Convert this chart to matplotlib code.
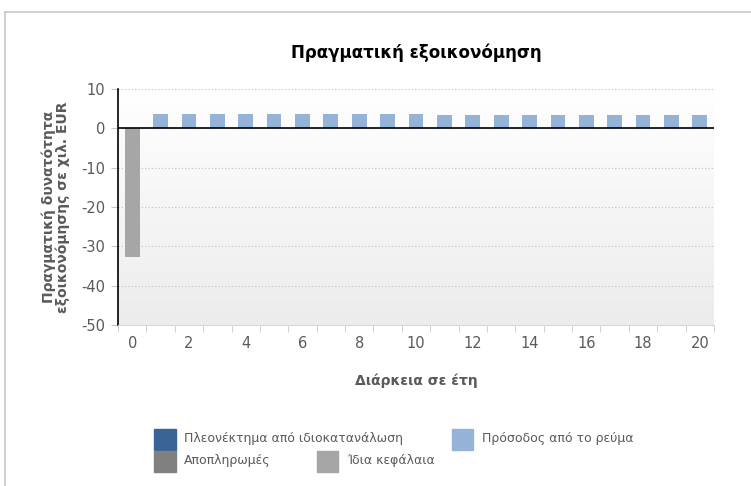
import matplotlib.pyplot as plt
from matplotlib.patches import Patch
from matplotlib.lines import Line2D
from matplotlib.colors import LinearSegmentedColormap
import numpy as np

plt.rcParams['font.family'] = ['DejaVu Sans']
plt.rcParams['axes.unicode_minus'] = False

years = list(range(0, 21))
equity = [-32.6] + [0] * 20                      # Ίδια κεφάλαια
income = [0] + [3.6] * 10 + [3.3] * 10            # Πρόσοδος από το ρεύμα
repayments = [0] * 21                             # Αποπληρωμές
self_use = [0] * 21                               # Πλεονέκτημα από ιδιοκατανάλωση
y_ticks = [10, 0, -10, -20, -30, -40, -50]
x_labels = list(range(0, 21, 2))

c_self = '#3b6496'
c_income = '#95b3d7'
c_repay = '#808080'
c_equity = '#a6a6a6'
txt = '#5a5a5a'

fig = plt.figure(figsize=(7.51, 4.86), dpi=100)
ax = fig.add_axes([118 / 751, 1 - 325 / 486, 596 / 751, 236 / 486])

# outer frame (top + left light lines)
fig.add_artist(Line2D([5 / 751, 1], [1 - 12 / 486] * 2, color='#c8c8c8', lw=1.2))
fig.add_artist(Line2D([5 / 751] * 2, [0, 1 - 12 / 486], color='#c8c8c8', lw=1.2))

# gradient background, white at top to light grey at bottom
cmap = LinearSegmentedColormap.from_list('bg', ['#ffffff', '#ececec'])
grad = np.linspace(1, 0, 256).reshape(-1, 1)
ax.imshow(grad, extent=[-0.5, 20.5, -50, 10], aspect='auto', cmap=cmap,
          vmin=0, vmax=1, zorder=0, origin='lower')

w = 0.52
ax.bar(years, equity, width=w, color=c_equity, zorder=3)
ax.bar(years, income, width=w, color=c_income, zorder=3)

ax.set_xlim(-0.5, 20.5)
ax.set_ylim(-50, 10)
ax.set_yticks(y_ticks)
ax.yaxis.grid(True, color='#c0c0c0', linestyle=(0, (1, 2)), lw=0.8)
ax.set_axisbelow(True)
ax.axhline(0, color='black', lw=1.2, zorder=4)

ax.set_xticks(x_labels)
ax.set_xticks(np.arange(-0.5, 21, 1), minor=True)
ax.tick_params(axis='x', which='major', length=0, pad=8, labelsize=10.5, labelcolor=txt)
ax.tick_params(axis='x', which='minor', length=5, color='#c8c8c8')
ax.tick_params(axis='y', length=5, color='#c8c8c8', labelsize=10.5, labelcolor=txt, pad=4)

for s in ['top', 'right']:
    ax.spines[s].set_visible(False)
ax.spines['left'].set_color('black')
ax.spines['left'].set_linewidth(1.2)
ax.spines['bottom'].set_color('#d8d8d8')

ax.set_title('Πραγματική εξοικονόμηση', fontsize=12, fontweight='bold', pad=22)
ax.set_xlabel('Διάρκεια σε έτη', fontsize=10, fontweight='bold', color=txt, labelpad=16)
ax.set_ylabel('Πραγματική δυνατότητα\nεξοικονόμησης σε χιλ. EUR', fontsize=10,
              fontweight='bold', color=txt, labelpad=8, linespacing=1.0)

# legend laid out row by row (flow layout like the original)
rows = [
    ([Patch(color=c_self), Patch(color=c_income)],
     ['Πλεονέκτημα από ιδιοκατανάλωση', 'Πρόσοδος από το ρεύμα'], 3.9, 438),
    ([Patch(color=c_repay), Patch(color=c_equity)],
     ['Αποπληρωμές', 'Ίδια κεφάλαια'], 3.7, 460),
]
for hs, ls, gap, yc in rows:
    leg = fig.legend(hs, ls, ncol=2, loc='center left',
                     bbox_to_anchor=(148 / 751, 1 - yc / 486),
                     frameon=False, fontsize=9, handlelength=1.7, handleheight=1.7,
                     handletextpad=0.7, columnspacing=gap, borderpad=0)
    for t in leg.get_texts():
        t.set_color(txt)
    for p in leg.get_patches():
        p.set_height(21 * 72 / 100)
        p.set_y(p.get_y() - 2.5)

fig.savefig('out.png', dpi=100)
